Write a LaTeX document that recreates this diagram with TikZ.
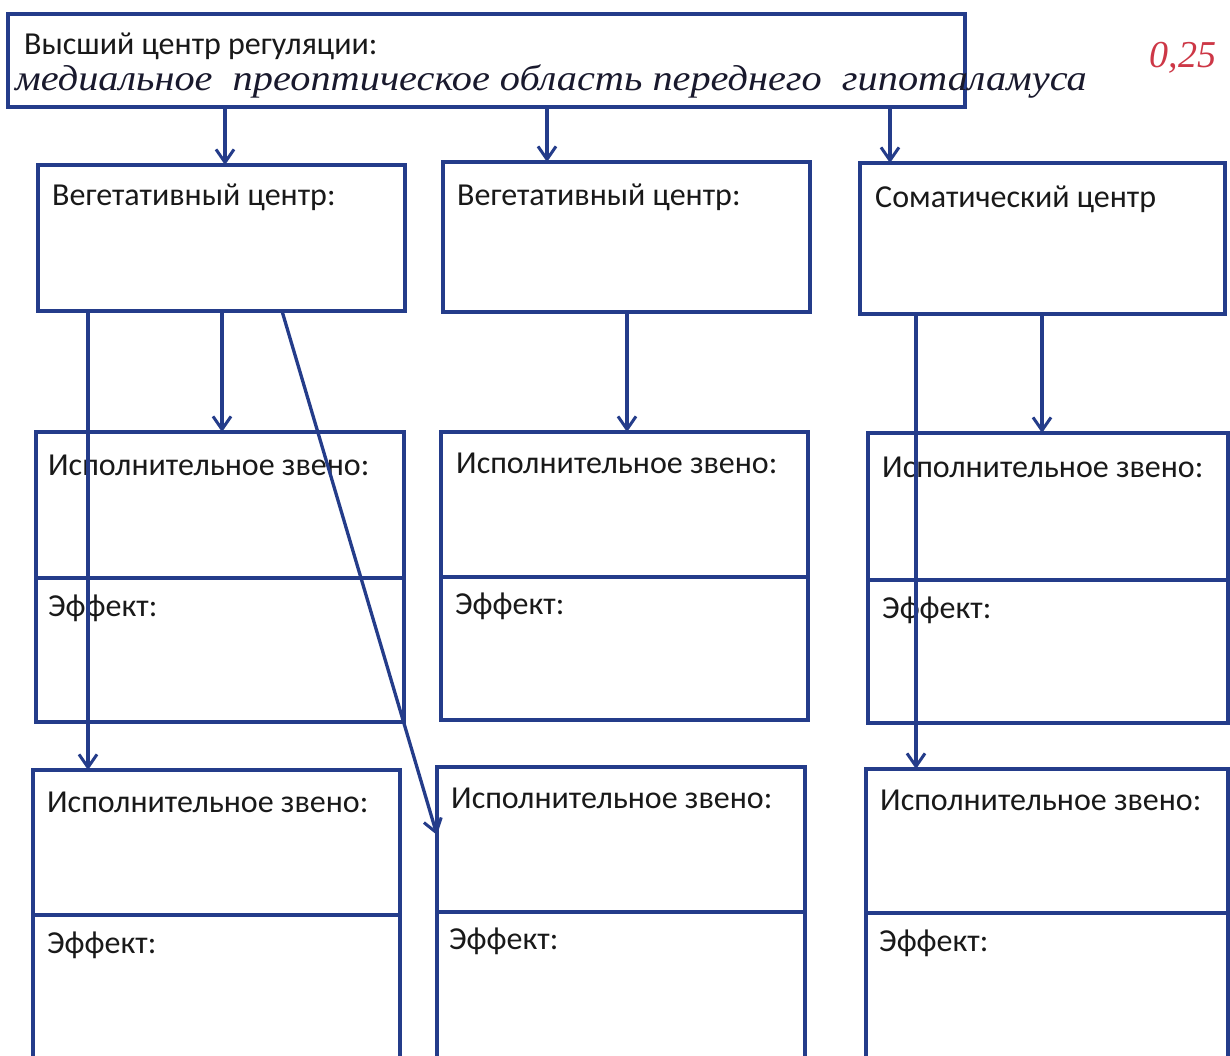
\documentclass[tikz,border=0pt]{standalone}
\usepackage{fontspec}
\setmainfont{Carlito}
\newfontfamily\handfont{Liberation Serif}
\usetikzlibrary{arrows.meta}
\definecolor{ln}{RGB}{36,60,138}
\definecolor{ink}{RGB}{25,25,45}
\definecolor{redink}{RGB}{205,55,70}
\begin{document}
\begin{tikzpicture}[x=1pt,y=-1pt,
  box/.style={draw=ln, line width=3.6pt, rectangle, anchor=north west, inner sep=0pt, outer sep=0pt},
  lbl/.style={anchor=west, font=\fontsize{32}{36}\selectfont, text=black!90, inner sep=0pt},
  arr/.style={draw=ln, line width=3.3pt, -{Straight Barb[length=13pt,width=18pt,line width=3pt]}}]
\useasboundingbox (0,0) rectangle (1230,1055);
\clip (0,0) rectangle (1230,1055);
\fill[white] (0,0) rectangle (1230,1055);
% top
\node[box, minimum width=957pt, minimum height=93pt] (top) at (8,14) {};
\node[lbl] (toplbl) at (24,46) {Высший центр регуляции:};
\node[anchor=base west, inner sep=0pt, text=ink, xscale=1.12, font=\handfont\itshape\fontsize{36}{40}\selectfont] (hw) at (15,90) {медиальное \ преоптическое область переднего \ гипоталамуса};
\node[text=redink, font=\handfont\itshape\fontsize{38}{42}\selectfont, inner sep=0pt] (score) at (1183,58) {0,25};
% row 1
\node[box, minimum width=367pt, minimum height=146pt] (B1) at (38,165) {};
\node[box, minimum width=367pt, minimum height=150pt] (B2) at (443,162) {};
\node[box, minimum width=365pt, minimum height=151pt] (B3) at (860,163) {};
\node[lbl] (B1l) at (52,197) {Вегетативный центр:};
\node[lbl] (B2l) at (457,197) {Вегетативный центр:};
\node[lbl] (B3l) at (875,199) {Соматический центр};
% row 2
\node[box, minimum width=368pt, minimum height=146pt] (C1a) at (36,432) {};
\node[box, minimum width=368pt, minimum height=144pt] (C1b) at (36,578) {};
\node[box, minimum width=367pt, minimum height=145pt] (C2a) at (441,432) {};
\node[box, minimum width=367pt, minimum height=143pt] (C2b) at (441,577) {};
\node[box, minimum width=360pt, minimum height=147pt] (C3a) at (868,433) {};
\node[box, minimum width=360pt, minimum height=143pt] (C3b) at (868,580) {};
\node[lbl] (C1l) at (48,465) {Исполнительное звено:};
\node[lbl] (C1e) at (48,608) {Эффект:};
\node[lbl] (C2l) at (456,463) {Исполнительное звено:};
\node[lbl] (C2e) at (455,606) {Эффект:};
\node[lbl] (C3l) at (882,467) {Исполнительное звено:};
\node[lbl] (C3e) at (882,610) {Эффект:};
% row 3
\node[box, minimum width=367pt, minimum height=145pt] (D1a) at (33,770) {};
\node[box, minimum width=367pt, minimum height=170pt] (D1b) at (33,915) {};
\node[box, minimum width=368pt, minimum height=145pt] (D2a) at (437,767) {};
\node[box, minimum width=368pt, minimum height=170pt] (D2b) at (437,912) {};
\node[box, minimum width=362pt, minimum height=144pt] (D3a) at (866,769) {};
\node[box, minimum width=362pt, minimum height=170pt] (D3b) at (866,913) {};
\node[lbl] (D1l) at (47,802) {Исполнительное звено:};
\node[lbl] (D1e) at (47,945) {Эффект:};
\node[lbl] (D2l) at (451,798) {Исполнительное звено:};
\node[lbl] (D2e) at (449,941) {Эффект:};
\node[lbl] (D3l) at (880,800) {Исполнительное звено:};
\node[lbl] (D3e) at (879,943) {Эффект:};
% x positions
\coordinate (xa) at (225,0);
\coordinate (xb) at (547,0);
\coordinate (xc) at (890,0);
\coordinate (xd) at (222,0);
\coordinate (xe) at (627,0);
\coordinate (xf) at (1042,0);
\coordinate (xg) at (88,0);
\coordinate (xh) at (282,0);
\coordinate (xi) at (916,0);
\coordinate (yd) at (0,835);
% connectors
\draw[arr] (top.south -| xa) -- (B1.north -| xa);
\draw[arr] (top.south -| xb) -- (B2.north -| xb);
\draw[arr] (top.south -| xc) -- (B3.north -| xc);
\draw[arr] (B1.south -| xd) -- (C1a.north -| xd);
\draw[arr] (B2.south -| xe) -- (C2a.north -| xe);
\draw[arr] (B3.south -| xf) -- (C3a.north -| xf);
\draw[arr] (B1.south -| xg) -- (D1a.north -| xg);
\draw[arr] (B1.south -| xh) -- (D2a.west |- yd);
\draw[arr] (B3.south -| xi) -- (D3a.north -| xi);
\end{tikzpicture}
\end{document}
